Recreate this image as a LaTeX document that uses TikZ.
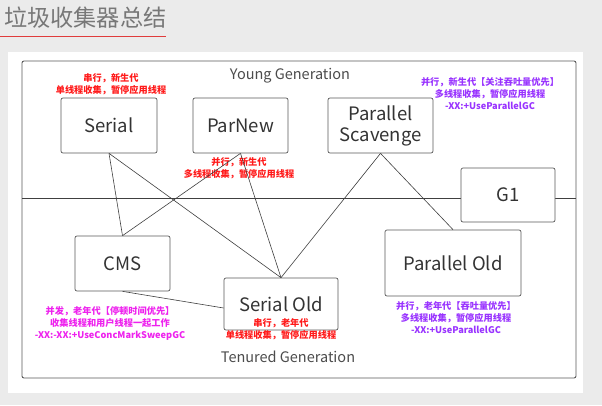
\documentclass[tikz,border=0pt]{standalone}
\usepackage{fontspec}
\setmainfont{Noto Sans CJK SC}
\usetikzlibrary{positioning}
\definecolor{pagegray}{HTML}{EBEBEB}
\definecolor{titlegray}{HTML}{787878}
\definecolor{lineRed}{HTML}{E03C3C}
\definecolor{noteRed}{HTML}{FF1A1A}
\definecolor{noteMagenta}{HTML}{EE22EE}
\definecolor{notePurple}{HTML}{9933FF}

\begin{document}
\begin{tikzpicture}[
  x=1pt, y=-1pt,
  every node/.style={align=center, inner sep=2pt},
  gc/.style  ={rectangle, rounded corners=2pt, draw=black!65, fill=white, line width=0.7pt,
               text=black!80, font=\fontsize{18.5}{21}\selectfont},
  gen/.style ={text=black!70, font=\fontsize{14.5}{17}\selectfont},
  note/.style={inner sep=0pt, font=\bfseries\fontsize{9.2}{12}\selectfont},
  link/.style={draw=black!75, line width=0.6pt}
]
% Page: gray background, white panel, title with red rule
\fill[pagegray] (0,0) rectangle (602,405);
\useasboundingbox (0,0) rectangle (602,405);
\fill[white] (8,52) rectangle (583,393);
\node[anchor=west, text=titlegray, font=\fontsize{23.2}{27}\selectfont, inner sep=0pt] (title) at (4,18) {垃圾收集器总结};
\draw[lineRed, line width=0.8pt] (0,36) -- (166,36);

% Outer frame and the generation split at y=198
\node[rectangle, rounded corners=2pt, draw=black!65, line width=0.9pt,
      minimum width=554pt, minimum height=317pt] (frame) at (299,219.5) {};
\coordinate (sepL) at (22,198);
\coordinate (sepR) at (576,198);

% Row 1 (y=125.5): young collectors
\node[gc, minimum width=96pt,  minimum height=55pt] (serial)   at (109,125.5)   {Serial};
\node[gc, minimum width=95pt,  minimum height=55pt] (parnew)   at (240.5,125.5) {ParNew};
\node[gc, minimum width=105pt, minimum height=55pt, font=\fontsize{18.5}{21}\selectfont] (pscav) at (380.5,125.5) {Parallel\\Scavenge};

% G1 sits on the split line
\draw[link] (sepL) -- (sepR);
\node[gc, minimum width=94pt, minimum height=54pt] (g1) at (508,195) {G1};

% Row 2: old collectors
\node[gc, minimum width=95pt,  minimum height=55pt] (cms)    at (122.5,263.5) {CMS};
\node[gc, minimum width=114pt, minimum height=52pt] (serold) at (281,304)     {Serial Old};
\node[gc, minimum width=136pt, minimum height=66pt] (parold) at (453,263)     {Parallel Old};

% Generation captions
\node[gen] (young)   at (290,76)  {Young Generation};
\node[gen] (tenured) at (288,357) {Tenured Generation};

% Notes
\node[note, text=noteRed]     (nSerial) at (111,84)  {串行，新生代\\单线程收集，暂停应用线程};
\node[note, text=noteRed]     (nParNew) at (239,168) {并行，新生代\\多线程收集，暂停应用线程};
\node[note, text=notePurple]  (nPScav)  at (490,94)  {并行，新生代【关注吞吐量优先】\\多线程收集，暂停应用线程\\-XX:+UseParallelGC};
\node[note, text=noteMagenta] (nCMS)    at (110,323) {并发，老年代【停顿时间优先】\\收集线程和用户线程一起工作\\-XX:-XX:+UseConcMarkSweepGC};
\node[note, text=noteRed]     (nSerOld) at (281,329) {串行，老年代\\单线程收集，暂停应用线程};
\node[note, text=notePurple]  (nParOld) at (456,318) {并行，老年代【吞吐量优先】\\多线程收集，暂停应用线程\\-XX:+UseParallelGC};

% Edges
\draw[link] (serial.south) -- (cms.north);
\draw[link] (serial.south) -- (serold.north);
\draw[link] (parnew.south) -- (cms.north);
\draw[link] (parnew.south) -- (serold.north);
\draw[link] (pscav.south)  -- (serold.north);
\draw[link] (pscav.south)  -- (parold.north);
\draw[link] (cms.south)    -- ([yshift=-4pt]serold.west);
\end{tikzpicture}
\end{document}
